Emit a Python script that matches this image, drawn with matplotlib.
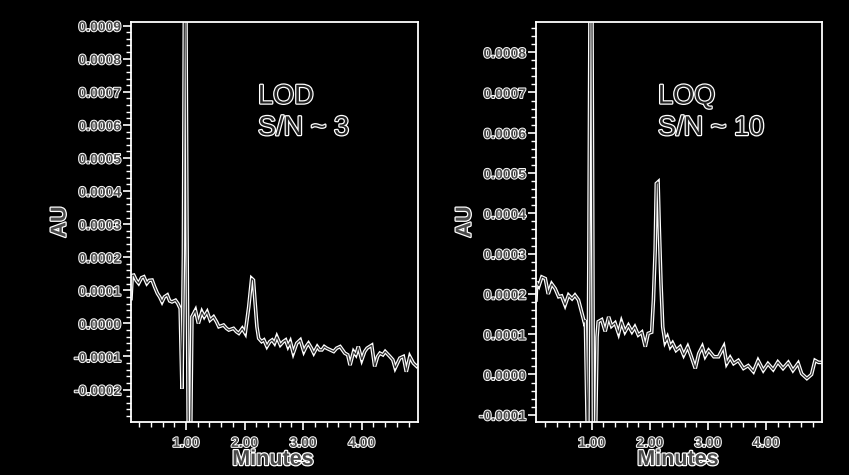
import matplotlib
matplotlib.use("Agg")
import matplotlib.pyplot as plt
import matplotlib.patheffects as pe
from matplotlib.ticker import MultipleLocator, FixedLocator
import numpy as np

# ---------------- data (AU values given in units of 1e-4 AU) ----------------
lod_min = [0.06, 0.08, 0.107, 0.15, 0.19, 0.24, 0.28, 0.33, 0.37, 0.42,
           0.46, 0.51, 0.55, 0.59, 0.63, 0.68, 0.72, 0.76, 0.82, 0.86,
           0.90, 0.93, 0.955, 0.975, 0.995, 1.015, 1.04, 1.075, 1.10, 1.13,
           1.16, 1.21, 1.27, 1.31, 1.36, 1.41, 1.47, 1.52, 1.56, 1.64,
           1.69, 1.73, 1.81, 1.86, 1.90, 1.96, 2.01, 2.07, 2.12, 2.15,
           2.18, 2.21, 2.24, 2.29, 2.33, 2.38, 2.43, 2.47, 2.51, 2.55,
           2.61, 2.66, 2.70, 2.74, 2.78, 2.83, 2.89, 2.95, 3.01, 3.05,
           3.09, 3.14, 3.18, 3.24, 3.28, 3.32, 3.36, 3.40, 3.46, 3.52,
           3.57, 3.63, 3.71, 3.76, 3.80, 3.86, 3.90, 3.94, 4.00, 4.05,
           4.09, 4.17, 4.22, 4.27, 4.31, 4.36, 4.40, 4.48, 4.53, 4.57,
           4.65, 4.71, 4.76, 4.82, 4.88, 4.94, 4.97]
lod_au_e4 = [0.75, 1.45, 1.46, 1.30, 1.21, 1.38, 1.41, 1.21, 1.30, 1.31,
             1.12, 0.91, 0.80, 0.65, 0.80, 0.86, 0.68, 0.65, 0.70, 0.60,
             0.45, -1.97, 2.10, 11.0, 10.5, 3.0, -4.0, -4.0, 0.20, 0.30,
             0.40, 0.00, 0.35, 0.20, 0.35, 0.10, 0.20, 0.05, -0.10, -0.05,
             -0.15, -0.20, -0.15, -0.25, -0.30, -0.15, -0.30, 0.50, 1.36, 1.31,
             0.60, -0.10, -0.45, -0.55, -0.50, -0.70, -0.55, -0.50, -0.60, -0.40,
             -0.65, -0.55, -0.50, -0.70, -0.55, -0.90, -0.60, -0.50, -0.85, -0.70,
             -0.60, -0.75, -0.90, -0.70, -0.80, -0.80, -0.70, -0.75, -0.80, -0.85,
             -0.75, -0.70, -0.90, -0.95, -1.26, -0.85, -0.95, -0.70, -1.10, -0.85,
             -0.75, -0.66, -1.30, -1.00, -0.90, -0.95, -0.85, -1.00, -1.10, -1.35,
             -1.05, -1.00, -1.46, -1.00, -1.20, -1.30, -1.25]

loq_min = [0.04, 0.053, 0.09, 0.14, 0.20, 0.25, 0.31, 0.37, 0.43, 0.48,
           0.54, 0.60, 0.66, 0.71, 0.77, 0.83, 0.87, 0.89, 0.91, 0.93,
           0.95, 0.975, 1.00, 1.03, 1.06, 1.09, 1.11, 1.17, 1.23, 1.29,
           1.34, 1.40, 1.46, 1.51, 1.57, 1.63, 1.69, 1.74, 1.80, 1.86,
           1.92, 1.97, 2.03, 2.06, 2.09, 2.11, 2.14, 2.16, 2.19, 2.22,
           2.26, 2.30, 2.35, 2.39, 2.45, 2.52, 2.58, 2.65, 2.71, 2.78,
           2.84, 2.90, 2.95, 3.01, 3.10, 3.18, 3.27, 3.32, 3.38, 3.44,
           3.52, 3.61, 3.69, 3.78, 3.86, 3.95, 4.03, 4.12, 4.20, 4.29,
           4.38, 4.46, 4.55, 4.61, 4.70, 4.78, 4.84, 4.90, 4.96]
loq_au_e4 = [1.85, 2.30, 2.20, 2.42, 2.38, 2.00, 2.25, 2.13, 1.93, 1.95,
             1.72, 1.97, 1.88, 1.97, 1.85, 1.52, 1.30, 1.35, -0.39, -2.0,
             3.0, 11.0, 10.0, -2.0, -2.0, 0.93, 1.31, 1.36, 1.07, 1.43,
             1.20, 1.28, 1.02, 1.31, 1.06, 1.22, 1.06, 1.18, 0.98, 1.05,
             0.69, 1.02, 1.05, 1.85, 3.09, 4.74, 4.78, 3.67, 2.26, 1.18,
             0.81, 0.93, 0.69, 0.78, 0.60, 0.69, 0.48, 0.69, 0.45, 0.15,
             0.52, 0.69, 0.45, 0.60, 0.44, 0.44, 0.69, 0.27, 0.42, 0.27,
             0.35, 0.15, 0.22, 0.07, 0.35, 0.10, 0.27, 0.12, 0.31, 0.15,
             0.30, 0.10, 0.28, 0.02, -0.10, 0.00, 0.35, 0.30, 0.30]

x_major_ticks = [1.0, 2.0, 3.0, 4.0]
x_tick_labels = ["1.00", "2.00", "3.00", "4.00"]
lod_y_ticks_e4 = [-2, -1, 0, 1, 2, 3, 4, 5, 6, 7, 8, 9]
loq_y_ticks_e4 = [-1, 0, 1, 2, 3, 4, 5, 6, 7, 8]
panel_titles = [("LOD", "S/N ~ 3"), ("LOQ", "S/N ~ 10")]

# ---------------- style ----------------
W, H = 849, 475
fig = plt.figure(figsize=(W / 100, H / 100), dpi=100, facecolor="black")
FONT = "Liberation Sans"
outline = [pe.withStroke(linewidth=1.8, foreground="white")]
outline_thin = [pe.withStroke(linewidth=1.4, foreground="white")]


def px_box(l, t, r, b):
    return [l / W, 1 - b / H, (r - l) / W, (b - t) / H]


def setup(ax, xlim, ylim, yticks_e4):
    ax.set_facecolor("black")
    for s in ax.spines.values():
        s.set_color("white")
        s.set_linewidth(1.3)
    ax.set_xlim(*xlim)
    ax.set_ylim(*ylim)
    ax.xaxis.set_major_locator(FixedLocator(x_major_ticks))
    ax.set_xticklabels(x_tick_labels)
    ax.xaxis.set_minor_locator(MultipleLocator(0.2))
    yt = [v * 1e-4 for v in yticks_e4]
    ax.yaxis.set_major_locator(FixedLocator(yt))
    ax.set_yticklabels([f"{v:.4f}" for v in yt])
    ax.yaxis.set_minor_locator(MultipleLocator(0.2e-4))
    ax.tick_params(axis="both", which="major", color="white", width=1.2,
                   direction="out", length=6)
    ax.tick_params(axis="both", which="minor", color="white", width=1.0,
                   direction="out", length=3.5)
    ax.tick_params(axis="y", which="major", pad=1)
    ax.tick_params(axis="x", which="major", pad=4)
    for lab in ax.get_xticklabels() + ax.get_yticklabels():
        lab.set_fontfamily(FONT)
        lab.set_fontweight("bold")
        lab.set_fontsize(10)
        lab.set_color("#4a4a4a")
        lab.set_path_effects(outline_thin)


def trace(ax, x, y_e4):
    y = np.asarray(y_e4) * 1e-4
    ax.plot(x, y, color="white", lw=2.6, solid_joinstyle="miter")
    ax.plot(x, y, color="#303030", lw=0.9, solid_joinstyle="miter")


ax1 = fig.add_axes(px_box(131, 22, 418, 422))
setup(ax1, (0.06, 4.96), (-0.000298, 0.000911), lod_y_ticks_e4)
trace(ax1, lod_min, lod_au_e4)

ax2 = fig.add_axes(px_box(536, 22, 822, 422))
setup(ax2, (0.04, 4.96), (-0.000118, 0.000875), loq_y_ticks_e4)
trace(ax2, loq_min, loq_au_e4)

# axis labels
for cx in (273, 678):
    fig.text(cx / W, 1 - 465 / H, "Minutes", ha="center", va="baseline",
             family=FONT, weight="bold", size=15.5, color="#4a4a4a",
             path_effects=outline)
for cx in (60, 465):
    fig.text(cx / W, 1 - 222 / H, "AU", ha="center", va="center",
             rotation=90, family=FONT, weight="bold", size=15.5,
             color="#4a4a4a", path_effects=outline)

# annotations
for lx, (t1, t2) in zip((258, 658), panel_titles):
    fig.text(lx / W, 1 - 103.5 / H, t1, ha="left", va="baseline",
             family=FONT, size=19.5, color="#202020", path_effects=outline)
    fig.text(lx / W, 1 - 135 / H, t2, ha="left", va="baseline",
             family=FONT, size=19.5, color="#202020", path_effects=outline)

fig.savefig("out.png", dpi=100, facecolor="black")
